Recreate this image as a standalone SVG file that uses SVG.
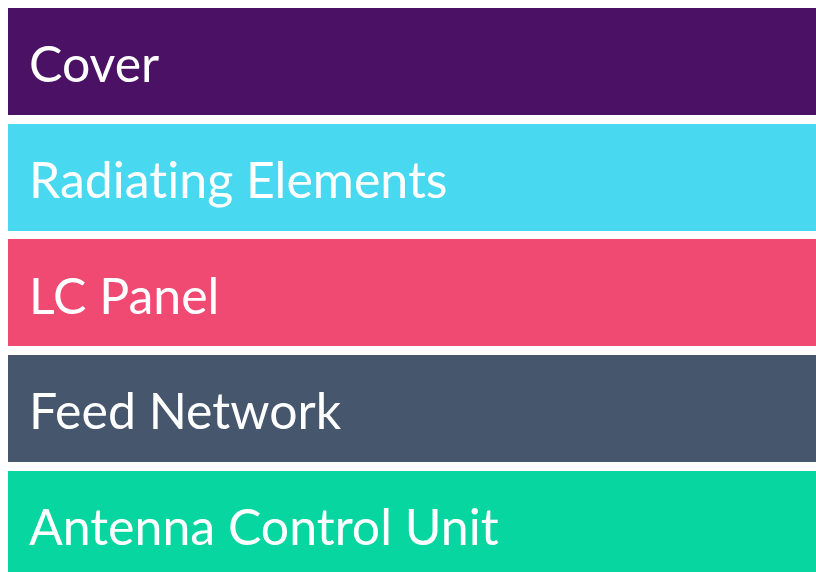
<svg xmlns="http://www.w3.org/2000/svg" width="816" height="572" viewBox="0 0 816 572">
  <style>
    .bar { stroke: none; }
    .label { font-family: "Lato", "Noto Sans", "Liberation Sans", sans-serif; font-size: 50px; font-variant-ligatures: none; fill: #ffffff; }
  </style>
  <rect width="816" height="572" fill="#ffffff"/>
  <g id="cover">
    <rect class="bar" x="8" y="8" width="808" height="107" fill="#4A1164"/>
    <text class="label" x="29" y="82">Cover</text>
  </g>
  <g id="radiating-elements">
    <rect class="bar" x="8" y="124" width="808" height="107" fill="#48D8EF"/>
    <text class="label" x="29" y="198">Radiating Elements</text>
  </g>
  <g id="lc-panel">
    <rect class="bar" x="8" y="239" width="808" height="107" fill="#F04A72"/>
    <text class="label" x="29" y="314">LC Panel</text>
  </g>
  <g id="feed-network">
    <rect class="bar" x="8" y="355" width="808" height="107" fill="#46566C"/>
    <text class="label" x="29" y="429">Feed Network</text>
  </g>
  <g id="antenna-control-unit">
    <rect class="bar" x="8" y="471" width="808" height="107" fill="#07D6A0"/>
    <text class="label" x="29" y="545">Antenna Control Unit</text>
  </g>
</svg>
